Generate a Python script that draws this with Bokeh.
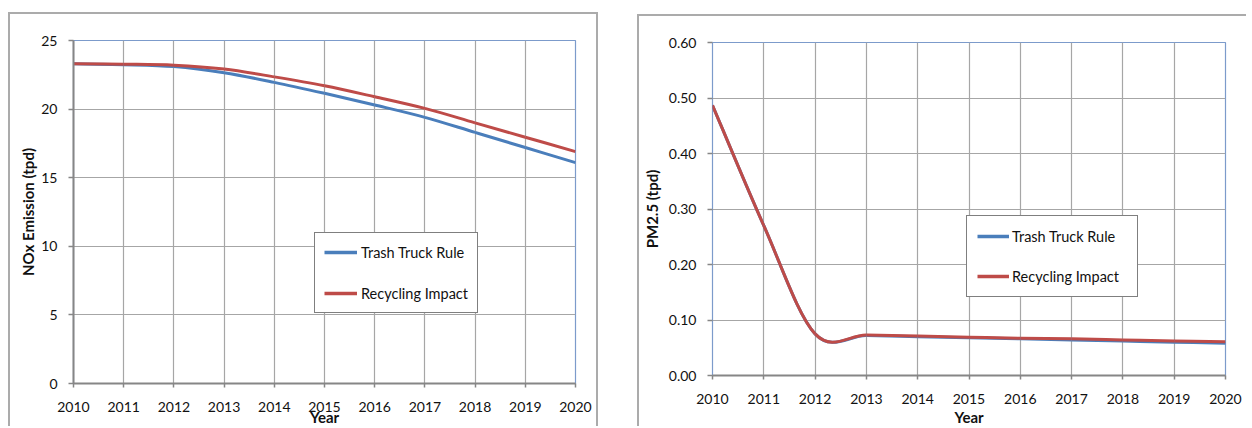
from bokeh.plotting import figure
from bokeh.models import Range1d, FixedTicker, NumeralTickFormatter, Legend, LegendItem
from bokeh.layouts import row, column
from bokeh.embed import file_html
from bokeh.resources import INLINE

# ---------------- data ----------------
years = [2010, 2011, 2012, 2013, 2014, 2015, 2016, 2017, 2018, 2019, 2020]
nox_trash = [23.3, 23.24, 23.1, 22.65, 21.95, 21.15, 20.3, 19.4, 18.3, 17.2, 16.1]
nox_recycle = [23.3, 23.27, 23.2, 22.92, 22.35, 21.7, 20.9, 20.05, 19.0, 17.95, 16.9]
pm_trash = [0.487, 0.27, 0.075, 0.072, 0.070, 0.068, 0.066, 0.064, 0.062, 0.060, 0.058]
pm_recycle = [0.487, 0.27, 0.075, 0.073, 0.071, 0.069, 0.067, 0.066, 0.064, 0.062, 0.061]
nox_ticks = [0, 5, 10, 15, 20, 25]
pm_ticks = [0.0, 0.1, 0.2, 0.3, 0.4, 0.5, 0.6]
series_names = ["Trash Truck Rule", "Recycling Impact"]
x_title = "Year"

BLUE = "#4a7ebb"
RED = "#be4b48"
GRID = "#a6a6a6"
AXIS = "#868686"
FRAME = "#7c9bcb"
BOX = "2px solid #ababab"
FONT = "Lato"


def smooth(xs, ys):
    """Excel-style smoothed line: cubic Bezier segments through the data points."""
    n = len(xs)
    d = dict(x0=[], y0=[], x1=[], y1=[], cx0=[], cy0=[], cx1=[], cy1=[])
    for i in range(n - 1):
        pv = i - 1 if i > 0 else i
        nx = i + 2 if i + 2 < n else i + 1
        d["x0"].append(xs[i]); d["y0"].append(ys[i])
        d["x1"].append(xs[i + 1]); d["y1"].append(ys[i + 1])
        d["cx0"].append(xs[i] + (xs[i + 1] - xs[pv]) / 6.0)
        d["cy0"].append(ys[i] + (ys[i + 1] - ys[pv]) / 6.0)
        d["cx1"].append(xs[i + 1] - (xs[nx] - xs[i]) / 6.0)
        d["cy1"].append(ys[i + 1] - (ys[nx] - ys[i]) / 6.0)
    return d


def make_chart(width, height, ymax, yticks, ylabel, s1, s2, borders,
               mb, legend_loc, legend_cfg, xtick_standoff, xlab_standoff,
               ylab_standoff, yaxis_line):
    p = figure(width=width, height=height, x_range=Range1d(2010, 2020),
               y_range=Range1d(0, ymax), output_backend="svg",
               toolbar_location=None,
               min_border_left=mb[0], min_border_right=mb[1],
               min_border_top=mb[2], min_border_bottom=mb[3])
    p.background_fill_color = "white"
    p.border_fill_color = "white"
    p.outline_line_color = FRAME
    p.outline_line_width = 1.2
    p.styles = borders

    p.xaxis.ticker = FixedTicker(ticks=years)
    p.yaxis.ticker = FixedTicker(ticks=yticks)
    for ax in (p.xaxis[0], p.yaxis[0]):
        ax.major_label_text_font = FONT
        ax.major_label_text_font_size = "14px"
        ax.major_label_text_color = "#111111"
        ax.major_tick_line_color = AXIS
        ax.major_tick_line_width = 1.5
        ax.major_tick_in = 0
        ax.minor_tick_line_color = None
        ax.axis_label_text_font = FONT
        ax.axis_label_text_font_size = "15px"
        ax.axis_label_text_font_style = "bold"
        ax.axis_label_text_color = "#111111"
    p.xaxis.major_tick_out = 4
    p.yaxis.major_tick_out = 5
    p.xaxis.axis_line_color = AXIS
    p.xaxis.axis_line_width = 2
    if yaxis_line:
        p.yaxis.axis_line_color = AXIS
        p.yaxis.axis_line_width = 2
    else:
        p.yaxis.axis_line_color = None
    p.xaxis.axis_label = x_title
    p.yaxis.axis_label = ylabel
    p.xaxis.major_label_standoff = xtick_standoff
    p.xaxis.axis_label_standoff = xlab_standoff
    p.yaxis.major_label_standoff = 11
    p.yaxis.axis_label_standoff = ylab_standoff
    if ymax < 1:
        p.yaxis.formatter = NumeralTickFormatter(format="0.00")

    p.xgrid.grid_line_color = GRID
    p.ygrid.grid_line_color = GRID
    p.xgrid.grid_line_width = 1.2
    p.ygrid.grid_line_width = 1.2

    d1 = smooth(years, s1)
    d2 = smooth(years, s2)
    p.bezier(x0="x0", y0="y0", x1="x1", y1="y1", cx0="cx0", cy0="cy0",
             cx1="cx1", cy1="cy1", source=d1, line_color=BLUE, line_width=3)
    p.bezier(x0="x0", y0="y0", x1="x1", y1="y1", cx0="cx0", cy0="cy0",
             cx1="cx1", cy1="cy1", source=d2, line_color=RED, line_width=3)

    # legend proxies (single point: draws nothing in the plot)
    l1 = p.line(x=years[:1], y=s1[:1], line_color=BLUE, line_width=3.5)
    l2 = p.line(x=years[:1], y=s2[:1], line_color=RED, line_width=3.5)
    leg = Legend(items=[LegendItem(label=series_names[0], renderers=[l1]),
                        LegendItem(label=series_names[1], renderers=[l2])],
                 location=legend_loc, orientation="vertical",
                 border_line_color="black", border_line_width=1,
                 background_fill_color="white", background_fill_alpha=1,
                 label_text_font=FONT, label_text_font_size="14.5px",
                 label_text_color="#111111",
                 glyph_width=legend_cfg["gw"], glyph_height=20,
                 spacing=legend_cfg["spacing"], padding=legend_cfg["padding"],
                 label_standoff=legend_cfg["standoff"],
                 label_width=legend_cfg["lw"], margin=0)
    p.add_layout(leg, "center")
    return p


border_left_chart = {"border-left": BOX, "border-top": BOX, "border-right": BOX}
border_right_chart = {"border-left": BOX, "border-top": BOX}

p1 = make_chart(590, 414, 25, nox_ticks, "NOx Emission (tpd)",
                nox_trash, nox_recycle, border_left_chart,
                mb=(63, 25, 26, 44), legend_loc=(241, 70),
                legend_cfg=dict(gw=33, spacing=21, padding=9, standoff=4, lw=100),
                xtick_standoff=14, xlab_standoff=-7, ylab_standoff=1,
                yaxis_line=True)

p2 = make_chart(609, 412, 0.6, pm_ticks, "PM2.5 (tpd)",
                pm_trash, pm_recycle, border_right_chart,
                mb=(70, 23, 26, 52), legend_loc=(254, 78),
                legend_cfg=dict(gw=32, spacing=20, padding=10, standoff=3, lw=115),
                xtick_standoff=14, xlab_standoff=1, ylab_standoff=5,
                yaxis_line=False)

# each chart in its own column so that Bokeh does not align the two frames
left_col = column(p1)
right_col = column(p2, margin=(2, 0, 0, 0))
layout = row(left_col, right_col, spacing=39, margin=(12, 0, 0, 8))

open("out.html", "w").write(file_html(layout, INLINE))
